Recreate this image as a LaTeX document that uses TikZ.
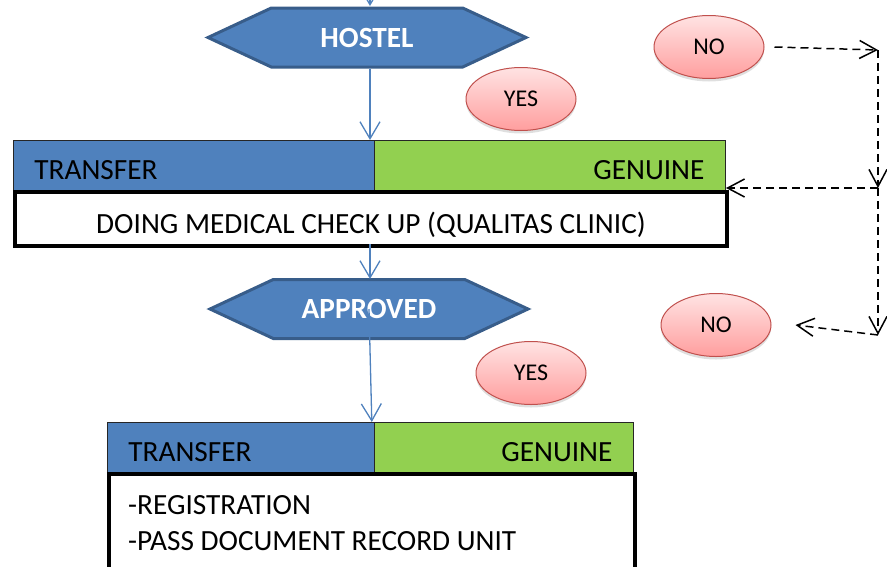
\documentclass[tikz,border=0pt]{standalone}
\usepackage{fontspec}
\setmainfont{Carlito}
\usetikzlibrary{shapes.geometric,shapes.symbols,arrows.meta,shadows}
\definecolor{boxblue}{HTML}{4F81BD}
\definecolor{hexline}{HTML}{385D8A}
\definecolor{boxgreen}{HTML}{92D050}
\definecolor{ovaltop}{HTML}{FFE3E3}
\definecolor{ovalbot}{HTML}{FF9E9E}
\definecolor{ovalline}{HTML}{C0504D}
\newcommand{\bigfont}{\fontsize{29.3}{31}\selectfont}
\tikzstyle{hexbox}=[signal,signal to=west and east,signal pointer angle=50,
                    draw=hexline,fill=boxblue,line width=3pt,
                    minimum width=318pt,minimum height=59pt,inner sep=0pt,
                    text=white,font=\bigfont\bfseries]
\tikzstyle{oval}=[ellipse,draw=ovalline,line width=1pt,
                  top color=ovaltop,bottom color=ovalbot,
                  drop shadow={shadow xshift=0pt,shadow yshift=-3pt,opacity=0.25},
                  minimum width=110pt,minimum height=63pt,inner sep=0pt,
                  font=\fontsize{24}{26}\selectfont]
\tikzstyle{cell}=[rectangle,draw=black!85,line width=0.8pt,anchor=north west,
                  minimum height=50pt,inner xsep=21pt,inner ysep=0pt,
                  text height=29pt,text depth=0pt,font=\bigfont]
\tikzstyle{taskbox}=[rectangle,draw=black,fill=white,line width=4pt,
                     anchor=north west,inner sep=0pt,
                     text height=29pt,text depth=0pt,font=\bigfont]
\tikzstyle{flow}=[draw=boxblue,line width=1.3pt,
                  -{Straight Barb[length=17pt,width=20pt,line width=1.3pt]}]
\tikzstyle{back}=[draw=black,line width=1.5pt,dash pattern=on 8pt off 5pt,
                  -{Straight Barb[length=17pt,width=18pt,line width=1.5pt]}]

\begin{document}
\begin{tikzpicture}[x=1pt,y=-1pt]
    \useasboundingbox (0,0) rectangle (887,566);
    \clip (0,0) rectangle (887,566);
    % first step
    \node (hostel) at (367,37.5) [hexbox]{HOSTEL};
    \node (yes1) at (521,99) [oval]{YES};
    \node (no1) at (709,47) [oval]{NO};
    \node (tr1) at (13,140) [cell,fill=boxblue,text width=319pt,align=left]{TRANSFER};
    \node (ge1) at (374,140) [cell,fill=boxgreen,text width=309pt,align=right]{GENUINE};
    \node (med) at (13,190) [taskbox,minimum width=712pt,minimum height=54pt]
          {DOING MEDICAL CHECK UP (QUALITAS CLINIC)};
    % second step
    \node (appr) at (369,309) [hexbox]{APPROVED};
    \node (yes2) at (531,373) [oval]{YES};
    \node (no2) at (716,325) [oval]{NO};
    \node (tr2) at (107,422) [cell,fill=boxblue,text width=225pt,align=left]{TRANSFER};
    \node (ge2) at (374,422) [cell,fill=boxgreen,text width=217pt,align=right]{GENUINE};
    \node (reg) at (107,472) [taskbox,minimum width=526pt,minimum height=130pt]{};
    \node (reg1) at (128,505) [anchor=west,inner sep=0pt,font=\bigfont]{-REGISTRATION};
    \node (reg2) at (128,541) [anchor=west,inner sep=0pt,font=\bigfont]{-PASS DOCUMENT RECORD UNIT};
    % connectors
    \coordinate (top) at (370,-20);
    \coordinate (c1) at (878,50);
    \coordinate (c2) at (878,188);
    \coordinate (c3) at (878,335);
    \draw[flow] (top) -- (370,6);
    \draw[flow] (370,69) -- (370,140);
    \draw[flow] (370,244) -- (370,279);
    \draw[flow] (appr.center) -- ([xshift=-3pt]tr2.north east);
    \draw[back] ([xshift=10pt]no1.east) -- (c1);
    \draw[back] (c1) -- (c2);
    \draw[back] (c2) -- (726,188);
    \draw[back] (c2) -- (c3);
    \draw[back] (c3) -- ([xshift=24pt]no2.east);
  \end{tikzpicture}
\end{document}
